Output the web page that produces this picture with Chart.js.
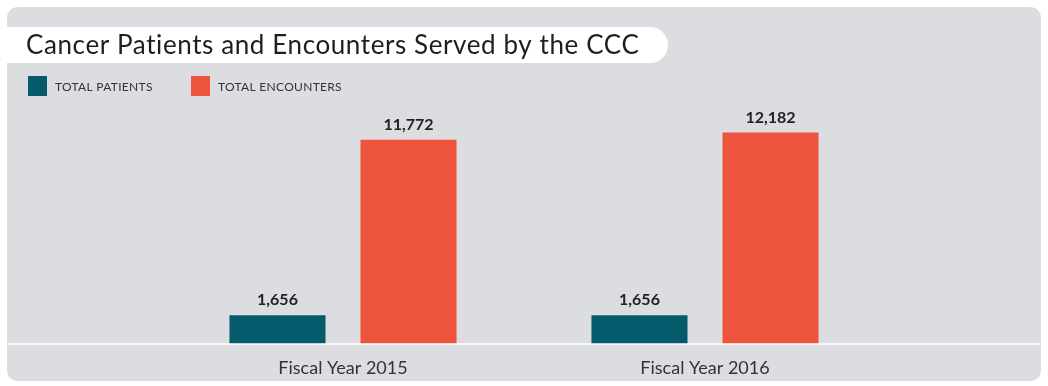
<!DOCTYPE html>
<html>
<head>
<meta charset="utf-8">
<script src="https://cdn.jsdelivr.net/npm/chart.js@4.4.0/dist/chart.umd.min.js"></script>
<style>
  html, body { margin: 0; padding: 0; background: #fff; }
  #wrap { width: 1048px; height: 386px; }
</style>
</head>
<body>
<div id="wrap"><canvas id="myChart" width="1048" height="386"></canvas></div>
<script>
var chartTitle = "Cancer Patients and Encounters Served by the CCC";
var categories = ["Fiscal Year 2015", "Fiscal Year 2016"];
var seriesNames = ["TOTAL PATIENTS", "TOTAL ENCOUNTERS"];
var patients = [1656, 1656];
var encounters = [11772, 12182];
var seriesColors = ["#055a6b", "#ee533d"];

var panelBg = "#dcdde0";

function roundRect(ctx, x, y, w, h, r) {
  ctx.beginPath();
  ctx.moveTo(x + r, y);
  ctx.lineTo(x + w - r, y);
  ctx.quadraticCurveTo(x + w, y, x + w, y + r);
  ctx.lineTo(x + w, y + h - r);
  ctx.quadraticCurveTo(x + w, y + h, x + w - r, y + h);
  ctx.lineTo(x + r, y + h);
  ctx.quadraticCurveTo(x, y + h, x, y + h - r);
  ctx.lineTo(x, y + r);
  ctx.quadraticCurveTo(x, y, x + r, y);
  ctx.closePath();
}

// panel, title pill, legend
var decor = {
  id: "decor",
  beforeDraw: function (chart) {
    var ctx = chart.ctx;
    ctx.save();
    ctx.fillStyle = "#fff";
    ctx.fillRect(0, 0, chart.width, chart.height);
    ctx.fillStyle = panelBg;
    roundRect(ctx, 7, 7, 1034, 374, 12);
    ctx.fill();

    // title pill
    ctx.fillStyle = "#fff";
    ctx.beginPath();
    ctx.moveTo(7, 27);
    ctx.lineTo(650, 27);
    ctx.arc(650, 45, 18, -Math.PI / 2, Math.PI / 2);
    ctx.lineTo(7, 63);
    ctx.closePath();
    ctx.fill();

    ctx.fillStyle = "#1e1e1e";
    ctx.font = "26px Lato";
    ctx.letterSpacing = "0.6px";
    ctx.textBaseline = "middle";
    ctx.textAlign = "left";
    ctx.fillText(chartTitle, 26, 46);

    // legend
    var lx = [28, 191];
    ctx.font = "12px Lato";
    ctx.letterSpacing = "0.3px";
    for (var i = 0; i < seriesNames.length; i++) {
      ctx.fillStyle = seriesColors[i];
      ctx.fillRect(lx[i], 76, 19, 20);
      ctx.fillStyle = "#333";
      ctx.fillText(seriesNames[i], lx[i] + 27, 87);
    }
    ctx.letterSpacing = "0px";
    ctx.restore();
  },
  afterDatasetsDraw: function (chart) {
    var ctx = chart.ctx;
    ctx.save();
    ctx.strokeStyle = "#fff";
    ctx.lineWidth = 1.5;
    ctx.beginPath();
    ctx.moveTo(8, 344);
    ctx.lineTo(1040, 344);
    ctx.stroke();

    ctx.fillStyle = "#222";
    ctx.font = "bold 16px Lato";
    ctx.textAlign = "center";
    ctx.textBaseline = "bottom";
    chart.data.datasets.forEach(function (ds, di) {
      chart.getDatasetMeta(di).data.forEach(function (bar, i) {
        ctx.fillText(ds.data[i].toLocaleString("en-US"), bar.x, bar.y - 7);
      });
    });
    ctx.restore();
  }
};

new Chart("myChart", {
  type: "bar",
  data: {
    labels: categories,
    datasets: [
      { label: seriesNames[0], data: patients, backgroundColor: seriesColors[0] },
      { label: seriesNames[1], data: encounters, backgroundColor: seriesColors[1] }
    ]
  },
  options: {
    responsive: false,
    animation: false,
    layout: { padding: { top: 101 } },
    categoryPercentage: 0.724,
    barPercentage: 0.733,
    plugins: {
      legend: { display: false },
      title: { display: false },
      tooltip: { enabled: false }
    },
    scales: {
      x: {
        grid: { display: false },
        border: { display: false },
        ticks: { color: "#333", font: { family: "Lato", size: 18 }, padding: 5 },
        afterFit: function (s) { s.height = 42; }
      },
      y: {
        min: 0,
        max: 14000,
        grid: { display: false },
        border: { display: false },
        ticks: { display: false },
        afterFit: function (s) { s.width = 162; }
      },
      yr: {
        type: "linear",
        position: "right",
        display: true,
        grid: { display: false },
        border: { display: false },
        ticks: { display: false },
        afterFit: function (s) { s.width = 162; }
      }
    }
  },
  plugins: [decor]
});
</script>
</body>
</html>
